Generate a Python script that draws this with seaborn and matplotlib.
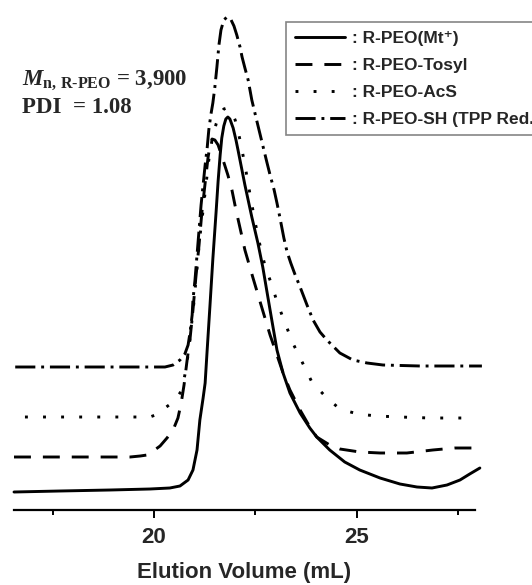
import pandas as pd
import seaborn as sns
import matplotlib.pyplot as plt
from matplotlib.ticker import MultipleLocator

# GPC traces: elution volume (mL) vs detector signal (a.u., stacked)
vol_mt = [16.55, 17.68, 18.92, 19.90, 20.39, 20.64, 20.84, 20.96, 21.06, 21.13,
          21.21, 21.26, 21.31, 21.38, 21.45, 21.53, 21.58, 21.63, 21.67, 21.72,
          21.77, 21.82, 21.87, 21.95, 22.02, 22.07, 22.24, 22.41, 22.56, 22.68,
          22.86, 23.03, 23.18, 23.35, 23.60, 23.84, 24.01, 24.33, 24.70, 25.07,
          25.57, 26.06, 26.48, 26.85, 27.22, 27.54, 27.78, 28.03]
sig_mt = [18, 19, 20, 21, 22, 24, 30, 40, 60, 90,
          112, 127, 160, 205, 251, 298, 329, 355, 372, 384,
          391, 393, 391, 382, 370, 360, 325, 293, 267, 243,
          200, 160, 137, 117, 97, 82, 73, 60, 48, 40,
          32, 26, 23, 22, 25, 30, 36, 42]

vol_tos = [16.55, 17.68, 18.67, 19.41, 19.66, 19.83, 19.98, 20.15, 20.32, 20.47,
           20.59, 20.67, 20.74, 20.81, 20.89, 20.96, 21.03, 21.11, 21.18, 21.26,
           21.33, 21.38, 21.43, 21.50, 21.58, 21.67, 21.82, 21.92, 22.02, 22.17,
           22.24, 22.44, 22.66, 22.86, 23.03, 23.18, 23.35, 23.60, 23.84, 24.01,
           24.33, 24.58, 25.07, 25.57, 26.23, 26.87, 27.41, 27.83]
sig_tos = [53, 53, 53, 53, 54, 55, 59, 64, 72, 80,
           92, 107, 125, 148, 172, 200, 232, 265, 298, 327,
           352, 365, 371, 370, 365, 354, 335, 320, 300, 273,
           260, 232, 202, 175, 155, 137, 120, 100, 83, 73,
           65, 61, 58, 57, 57, 60, 62, 62]

vol_acs = [16.82, 17.68, 18.67, 19.90, 20.10, 20.27, 20.44, 20.59, 20.69, 20.76,
           20.84, 20.91, 20.99, 21.06, 21.13, 21.21, 21.28, 21.35, 21.43, 21.53,
           21.63, 21.72, 21.80, 21.90, 22.00, 22.12, 22.24, 22.36, 22.49, 22.61,
           22.73, 22.91, 23.05, 23.23, 23.42, 23.65, 23.89, 24.26, 24.58, 25.02,
           25.49, 26.06, 26.80, 27.73]
sig_acs = [93, 93, 93, 93, 96, 102, 107, 114, 120, 135,
           155, 180, 210, 242, 273, 300, 325, 350, 370, 386,
           396, 401, 402, 399, 390, 370, 345, 317, 288, 265,
           245, 224, 206, 187, 167, 148, 128, 112, 101, 96,
           94, 93, 92, 92]

vol_sh = [16.58, 17.68, 19.16, 20.27, 20.47, 20.64, 20.76, 20.84, 20.89, 20.94,
          20.96, 21.01, 21.06, 21.11, 21.16, 21.21, 21.26, 21.31, 21.35, 21.40,
          21.45, 21.50, 21.55, 21.60, 21.65, 21.72, 21.80, 21.90, 21.97, 22.04,
          22.12, 22.17, 22.24, 22.32, 22.41, 22.54, 22.66, 22.78, 22.86, 22.96,
          23.03, 23.10, 23.20, 23.28, 23.37, 23.47, 23.60, 23.77, 23.92, 24.09,
          24.26, 24.58, 24.90, 25.25, 25.64, 26.55, 27.29, 28.08]
sig_sh = [143, 143, 143, 143, 145, 150, 156, 165, 178, 195,
          210, 230, 255, 280, 305, 325, 345, 362, 380, 395,
          407, 423, 443, 465, 480, 490, 493, 490, 484, 475,
          463, 453, 442, 430, 410, 388, 368, 348, 335, 320,
          307, 293, 272, 258, 247, 236, 223, 205, 190, 178,
          170, 157, 150, 147, 145, 144, 144, 144]

labels = [": R-PEO(Mt⁺)", ": R-PEO-Tosyl", ": R-PEO-AcS", ": R-PEO-SH (TPP Red.)"]

traces = [(vol_mt, sig_mt, "-"),
          (vol_tos, sig_tos, (0, (5.8, 4.1))),
          (vol_acs, sig_acs, (0, (1.0, 5.2))),
          (vol_sh, sig_sh, (0, (6.9, 2.0, 1.0, 2.0)))]

sns.set_theme(style="white")
plt.rcParams['font.family'] = ['Liberation Sans', 'DejaVu Sans']
plt.rcParams['font.weight'] = 'bold'
plt.rcParams['mathtext.fontset'] = 'custom'
plt.rcParams['mathtext.rm'] = 'Liberation Serif:bold'
plt.rcParams['mathtext.it'] = 'Liberation Serif:italic:bold'

fig = plt.figure(figsize=(5.32, 5.85), dpi=100)
ax = fig.add_axes([14 / 532, 75 / 585, 461 / 532, 510 / 585])

for (vol, sig, ls), lab in zip(traces, labels):
    df = pd.DataFrame({'vol': vol, 'sig': sig})
    sns.lineplot(data=df, x='vol', y='sig', ax=ax, color='black', lw=2.1,
                 linestyle=ls, sort=False, estimator=None, label=lab, clip_on=False)

ax.set_xlim(16.55, 27.91)
ax.set_ylim(0, 510)
sns.despine(ax=ax, left=True)
ax.spines['bottom'].set_linewidth(1.6)
ax.spines['bottom'].set_color('black')
ax.set_yticks([])
ax.set_ylabel('')
ax.xaxis.set_major_locator(MultipleLocator(5))
ax.xaxis.set_minor_locator(MultipleLocator(2.5))
ax.tick_params(axis='x', which='major', bottom=True, direction='out', length=6,
               width=1.4, color='black', labelsize=16, pad=6)
ax.tick_params(axis='x', which='minor', bottom=True, direction='out', length=3.5,
               width=1.4, color='black')
ax.set_xlabel('Elution Volume (mL)', fontsize=16, fontweight='bold', labelpad=10)

# molecular weight annotation (Times-like bold serif)
fig.text(22 / 532, 1 - 85 / 585, r"$M_{\mathrm{n,\,R‐PEO}}$ = 3,900",
         fontfamily='Liberation Serif', fontweight='bold', fontsize=16.5, va='baseline')
fig.text(22 / 532, 1 - 113 / 585, "PDI  = 1.08",
         fontfamily='Liberation Serif', fontweight='bold', fontsize=16.5, va='baseline')

ax.get_legend().remove()
leg = fig.legend(loc='upper left', bbox_to_anchor=(286 / 532, 1 - 22 / 585),
                 borderaxespad=0, frameon=True, fancybox=False, fontsize=12.5,
                 handlelength=2.9, handletextpad=0.4, labelspacing=0.68,
                 borderpad=0.5)
leg.get_frame().set_edgecolor('#666666')
leg.get_frame().set_linewidth(1.2)

plt.savefig('out.png', dpi=100)
